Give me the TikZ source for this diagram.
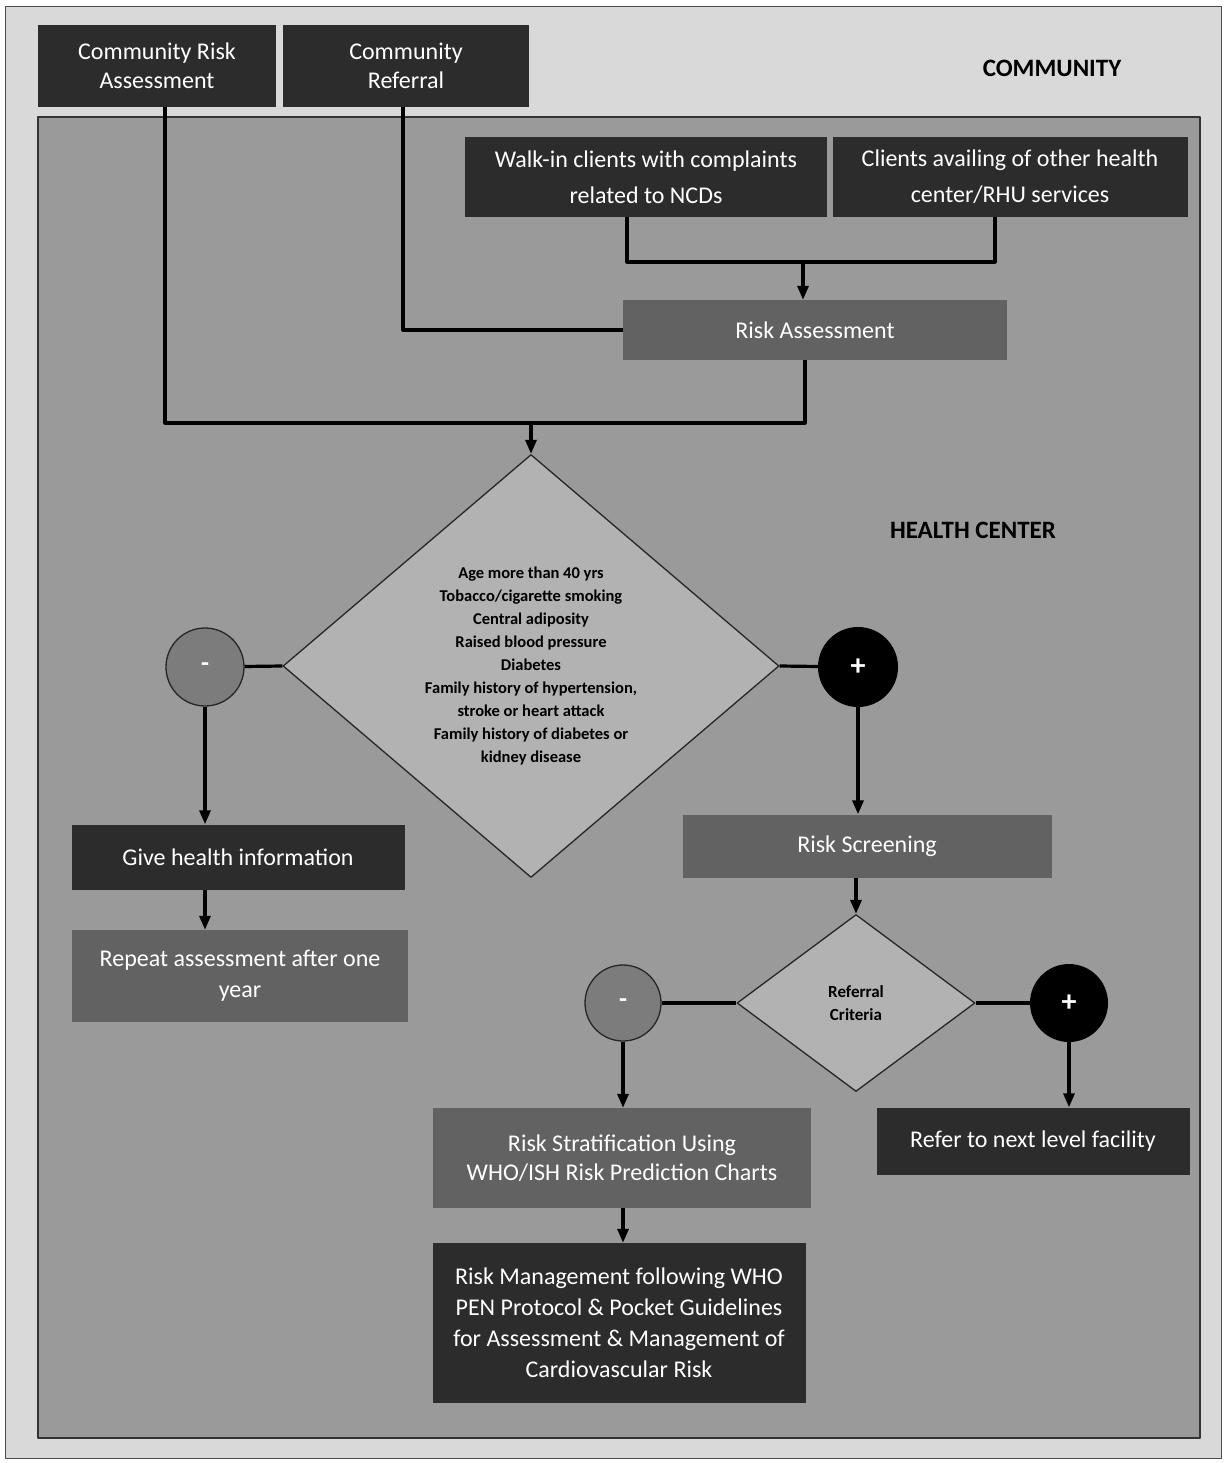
\documentclass[tikz,border=0pt]{standalone}
\usepackage{fontspec}
\setmainfont{Carlito}
\usetikzlibrary{shapes.geometric,arrows.meta}

\definecolor{framegray}{HTML}{D9D9D9}
\definecolor{panelgray}{HTML}{9A9A9A}
\definecolor{darkcell}{HTML}{2C2C2C}
\definecolor{midcell}{HTML}{626262}
\definecolor{checkgray}{HTML}{B2B2B2}
\definecolor{nogray}{HTML}{7C7C7C}

\begin{document}
\begin{tikzpicture}[
  x=1pt,
  y=-1pt,
  line join=round,
  cell/.style={rectangle,text=white,align=center,inner sep=0pt,font=\fontsize{24}{31}\selectfont},
  darkstep/.style={cell,fill=darkcell},
  midstep/.style={cell,fill=midcell},
  check/.style={diamond,draw=black!85,line width=1.3,fill=checkgray,inner sep=0pt,align=center,font=\bfseries\fontsize{16.5}{23}\selectfont},
  nobubble/.style={circle,draw=black!85,line width=1.3,fill=nogray,text=white,inner sep=0pt,font=\bfseries\fontsize{26}{26}\selectfont},
  yesbubble/.style={circle,fill=black,text=white,inner sep=0pt,font=\bfseries\fontsize{30}{30}\selectfont},
  zonelabel/.style={font=\bfseries\fontsize{25}{25}\selectfont},
  link/.style={draw=black,line width=3.2},
  flow/.style={link,-{Triangle[length=14,width=11]}}
]
  % Page frame of the reference image.
  \useasboundingbox (0,0) rectangle (1225,1463);
  \draw[fill=framegray,draw=black!70,line width=1] (5,7) rectangle (1221,1458);
  \draw[fill=panelgray,draw=black!80,line width=1.5] (38,117) rectangle (1200,1438);

  % Community level entry points.
  \node[darkstep,minimum width=238,minimum height=82,font=\fontsize{24}{29}\selectfont] (commRisk) at (157,66) {Community Risk\\Assessment};
  \node[darkstep,minimum width=246,minimum height=82,font=\fontsize{24}{29}\selectfont] (commRef) at (406,66) {Community\\Referral};
  \node[zonelabel] (communityLbl) at (1052,68) {COMMUNITY};

  % Health center entry points.
  \node[darkstep,minimum width=362,minimum height=80,font=\fontsize{24}{36}\selectfont] (walkIn) at (646,177) {Walk-in clients with complaints\\related to NCDs};
  \node[darkstep,minimum width=355,minimum height=80,font=\fontsize{24}{36}\selectfont] (otherSvc) at (1010,177) {Clients availing of other health\\center/RHU services};
  \node[midstep,minimum width=384,minimum height=60] (riskAssess) at (815,330) {Risk Assessment};
  \node[zonelabel] (healthLbl) at (973,530) {HEALTH CENTER};

  % Risk factor decision.
  \node[check,aspect=1.17,minimum width=496,minimum height=423] (riskFactors) at (531,666)
    {Age more than 40 yrs\\Tobacco/cigarette smoking\\Central adiposity\\Raised blood pressure\\Diabetes\\Family history of hypertension,\\stroke or heart attack\\Family history of diabetes or\\kidney disease};
  \node[nobubble,minimum size=78] (noFactors) at (205,667) {-};
  \node[yesbubble,minimum size=80] (hasFactors) at (858,667) {+};

  % Negative branch.
  \node[darkstep,minimum width=333,minimum height=65] (giveInfo) at (238,857) {Give health information};
  \node[midstep,minimum width=336,minimum height=92] (repeatYear) at (240,976) {Repeat assessment after one\\year};

  % Positive branch and referral decision.
  \node[midstep,minimum width=369,minimum height=63] (screening) at (867,846) {Risk Screening};
  \node[check,minimum width=238,minimum height=177,font=\bfseries\fontsize{17}{23}\selectfont] (referral) at (856,1003) {Referral\\Criteria};
  \node[nobubble,minimum size=76] (noRefer) at (623,1003) {-};
  \node[yesbubble,minimum size=78] (yesRefer) at (1069,1003) {+};
  \node[midstep,minimum width=378,minimum height=100,font=\fontsize{24}{29}\selectfont] (stratify) at (622,1158) {Risk Stratification Using\\WHO/ISH Risk Prediction Charts};
  \node[darkstep,minimum width=373,minimum height=160] (manage) at (619,1323)
    {Risk Management following WHO\\PEN Protocol \& Pocket Guidelines\\for Assessment \& Management of\\Cardiovascular  Risk};
  \node[darkstep,minimum width=313,minimum height=67] (nextLevel) at (1033,1141) {Refer to next level facility};

  % Merge points of the elbow connectors.
  \coordinate (entryJoin) at (803,262);
  \coordinate (assessJoin) at (531,423);

  \draw[link] ([xshift=-19]walkIn.south) |- (entryJoin) -| ([xshift=-15]otherSvc.south);
  \draw[flow] (entryJoin) -- (entryJoin |- riskAssess.north);
  \draw[link] ([xshift=-3]commRef.south) |- (riskAssess.west);
  \draw[link] ([xshift=8]commRisk.south) |- (assessJoin) -| ([xshift=-10]riskAssess.south);
  \draw[flow] (assessJoin) -- (riskFactors.north);

  \draw[link] (noFactors) -- (riskFactors.west);
  \draw[link] (riskFactors.east) -- (hasFactors);
  \draw[flow] (noFactors) -- (noFactors |- giveInfo.north);
  \draw[flow] (giveInfo.south -| noFactors) -- (noFactors |- repeatYear.north);
  \draw[flow] (hasFactors) -- (hasFactors |- screening.north);
  \draw[flow] (screening.south -| referral) -- (referral.north);

  \draw[link] (noRefer) -- (referral.west);
  \draw[link] (referral.east) -- (yesRefer);
  \draw[flow] (noRefer) -- (noRefer |- stratify.north);
  \draw[flow] (stratify.south -| noRefer) -- (noRefer |- manage.north);
  \draw[flow] (yesRefer) -- (yesRefer |- nextLevel.north);
\end{tikzpicture}
\end{document}
